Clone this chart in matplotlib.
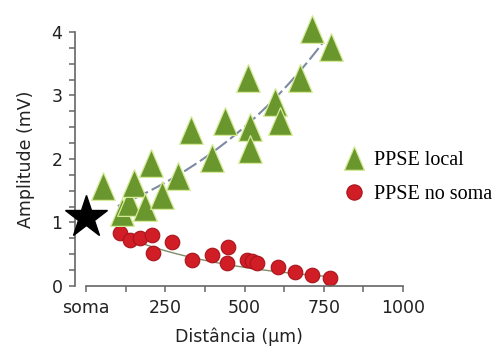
import numpy as np
import matplotlib.pyplot as plt
from matplotlib.lines import Line2D

# amplitude of PSPs vs distance from soma
dist_local = [54, 113, 136, 151, 186, 205, 240, 290, 331, 398, 438,
              517, 517, 510, 596, 612, 675, 713, 773]
amp_local = [1.57, 1.16, 1.32, 1.62, 1.24, 1.93, 1.44, 1.73, 2.45, 2.02, 2.60,
             2.51, 2.16, 3.28, 2.90, 2.60, 3.28, 4.05, 3.76]

dist_soma = [107, 139, 170, 208, 211, 271, 334, 397, 448, 445, 508, 524,
             539, 606, 659, 713, 770]
amp_soma = [0.83, 0.72, 0.75, 0.80, 0.52, 0.69, 0.41, 0.49, 0.61, 0.36, 0.41, 0.39,
            0.36, 0.30, 0.22, 0.17, 0.13]

soma_amp = 1.08

# exponential fits (a * exp(b * x))
fit_local = (1.06, 0.00172)
fit_soma = (1.05, -0.00255)

xticks = [0, 250, 500, 750, 1000]
xticklabels = ['soma', '250', '500', '750', '1000']
yticks = [0, 1, 2, 3, 4]

fig = plt.figure(figsize=(5, 3.49), dpi=100)
ax = fig.add_axes([0.15, 0.1805, 0.656, 0.728])

tri = [(0, 1), (-0.85, -1), (0.85, -1), (0, 1)]

xs = np.linspace(100, 745, 200)
ax.plot(xs, fit_local[0] * np.exp(fit_local[1] * xs), color='#7d8aa3',
        lw=1.5, dashes=(7, 2), zorder=1)
xs2 = np.linspace(100, 780, 200)
ax.plot(xs2, fit_soma[0] * np.exp(fit_soma[1] * xs2), color='#7f8c66',
        lw=1.0, zorder=1)

ax.plot(dist_soma, amp_soma, 'o', ms=10.5, mfc='#d11d26', mec='#a8141b',
        mew=0.8, ls='none', zorder=2, clip_on=False)
ax.plot(dist_local, amp_local, marker=tri, ms=20, mfc='#6a962e', mec='#d4ea96',
        mew=0.9, ls='none', zorder=3, clip_on=False)
ax.plot([0], [soma_amp], '*', ms=32, color='black', zorder=4, clip_on=False)

ax.set_xlim(-35, 1000)
ax.set_ylim(0, 4)

for s in ['top', 'right']:
    ax.spines[s].set_visible(False)
ax.spines['bottom'].set_bounds(0, 1000)
ax.spines['left'].set_bounds(0, 4)
for s in ['bottom', 'left']:
    ax.spines[s].set_color('#666666')
    ax.spines[s].set_linewidth(1.2)

ax.set_xticks(xticks)
ax.set_xticklabels(xticklabels)
ax.set_xticks(np.arange(125, 1000, 250), minor=True)
ax.set_yticks(yticks)
ax.set_yticks(np.arange(0.25, 4, 0.25), minor=True)
ax.tick_params(which='both', direction='out', length=4, width=1.1,
               color='#666666', labelsize=12.5, labelcolor='#222222')
ax.tick_params(axis='x', pad=5)
ax.tick_params(axis='y', pad=5)

ax.set_xlabel('Distância (µm)', fontsize=12.5, color='#222222', labelpad=8)
ax.set_ylabel('Amplitude (mV)', fontsize=12.5, color='#222222', labelpad=12)

handles = [
    Line2D([], [], marker=tri, ms=17, mfc='#6a962e', mec='#d4ea96', mew=0.9, ls='none'),
    Line2D([], [], marker='o', ms=11, mfc='#d11d26', mec='#a8141b', mew=0.8, ls='none'),
]
fig.legend(handles, ['PPSE local', 'PPSE no soma'], loc='upper left',
           bbox_to_anchor=(0.663, 0.596), frameon=False, borderpad=0,
           handlelength=1.2, handletextpad=0.4, labelspacing=0.75,
           prop={'family': 'Liberation Serif', 'size': 14.5})

fig.savefig('out.png', dpi=100)
